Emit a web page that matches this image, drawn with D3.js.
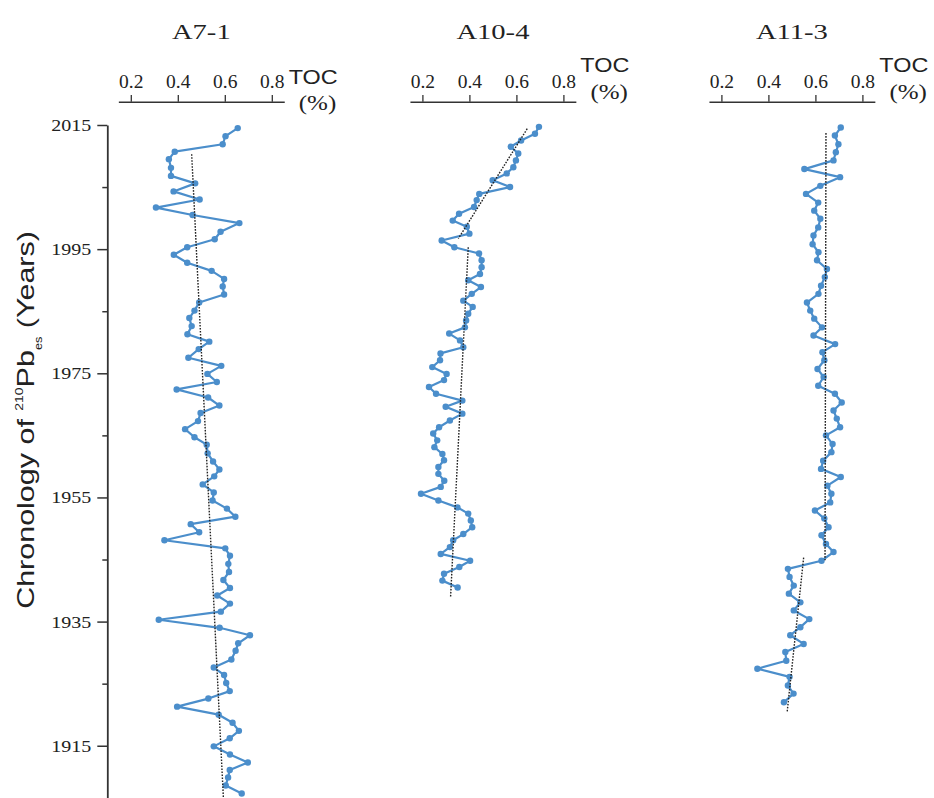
<!DOCTYPE html>
<head>
<meta charset="UTF-8">
<style>
    body { margin: 0; background: white; }
    .axis path, .axis line { stroke: #333; }
    .serif { font-family: "Liberation Serif", "Times New Roman", serif; fill: #222; }
    .sans { font-family: "Liberation Sans", Arial, sans-serif; fill: #222; }
    .toc { fill: none; stroke: #4b8ecb; stroke-width: 2.2; stroke-linejoin: round; }
    .dot { fill: #4b8ecb; }
    .trend { fill: none; stroke: #222; stroke-width: 1.4; stroke-dasharray: 1.6,1.4; }
</style>
</head>
<body>
<svg width="934" height="798"></svg>
<script src="https://cdn.jsdelivr.net/npm/d3@7"></script>
<script>
// cores
var cores = ["A7-1", "A10-4", "A11-3"];
var tocTicks = [0.2, 0.4, 0.6, 0.8];
var yearTicks = [2015, 1995, 1975, 1955, 1935, 1915];
var yearMinor = [2005, 1985, 1965, 1945, 1925];

// A7-1
var a7Year = [2014.5, 2013.2, 2011.9, 2010.7, 2009.5, 2008.1, 2006.8, 2005.6, 2004.3, 2003.0,
    2001.7, 2000.5, 1999.2, 1997.8, 1996.6, 1995.3, 1994.1, 1992.8, 1991.5, 1990.2,
    1989.0, 1987.7, 1986.4, 1985.1, 1983.9, 1982.6, 1981.3, 1980.1, 1978.9, 1977.5,
    1976.2, 1974.9, 1973.6, 1972.4, 1971.1, 1969.8, 1968.6, 1967.3, 1966.0, 1964.7,
    1963.5, 1962.1, 1960.8, 1959.5, 1958.4, 1957.1, 1955.8, 1954.5, 1953.2, 1951.9,
    1950.7, 1949.4, 1948.1, 1946.8, 1945.6, 1944.3, 1943.0, 1941.7, 1940.4, 1939.2,
    1937.9, 1936.6, 1935.3, 1934.0, 1932.8, 1931.5, 1930.3, 1928.9, 1927.6, 1926.4,
    1925.1, 1923.8, 1922.6, 1921.3, 1920.0, 1918.7, 1917.4, 1916.2, 1914.9, 1913.6,
    1912.3, 1911.1, 1909.9, 1908.6, 1907.3];
var a7Toc = [0.655, 0.603, 0.591, 0.387, 0.362, 0.371, 0.371, 0.474, 0.382, 0.493,
    0.307, 0.463, 0.662, 0.582, 0.557, 0.440, 0.383, 0.440, 0.544, 0.597,
    0.591, 0.597, 0.491, 0.471, 0.449, 0.459, 0.441, 0.534, 0.489, 0.445,
    0.585, 0.526, 0.566, 0.395, 0.529, 0.577, 0.497, 0.486, 0.431, 0.471,
    0.523, 0.527, 0.550, 0.577, 0.555, 0.506, 0.553, 0.548, 0.609, 0.645,
    0.455, 0.491, 0.343, 0.602, 0.622, 0.615, 0.618, 0.594, 0.622, 0.568,
    0.622, 0.583, 0.319, 0.578, 0.707, 0.657, 0.646, 0.628, 0.553, 0.597,
    0.606, 0.621, 0.530, 0.397, 0.574, 0.633, 0.660, 0.621, 0.553, 0.622,
    0.698, 0.621, 0.614, 0.604, 0.672];

// A10-4
var a10Year = [2014.7, 2013.6, 2012.5, 2011.5, 2010.4, 2009.3, 2008.2, 2007.2, 2006.1, 2005.0,
    2003.9, 2002.9, 2001.8, 2000.7, 1999.6, 1998.6, 1997.5, 1996.4, 1995.3, 1994.3,
    1993.2, 1992.1, 1991.0, 1990.0, 1988.9, 1987.8, 1986.7, 1985.7, 1984.6, 1983.5,
    1982.4, 1981.4, 1980.3, 1979.2, 1978.2, 1977.1, 1976.0, 1974.9, 1973.9, 1972.8,
    1971.7, 1970.6, 1969.6, 1968.5, 1967.4, 1966.3, 1965.3, 1964.2, 1963.1, 1962.0,
    1961.0, 1959.9, 1958.8, 1957.7, 1956.7, 1955.6, 1954.5, 1953.4, 1952.4, 1951.3,
    1950.2, 1949.1, 1948.1, 1947.0, 1945.9, 1944.8, 1943.8, 1942.7, 1941.6, 1940.5];
var a10Toc = [0.696, 0.679, 0.620, 0.576, 0.608, 0.598, 0.587, 0.559, 0.499, 0.573,
    0.442, 0.431, 0.420, 0.356, 0.329, 0.389, 0.400, 0.282, 0.336, 0.441,
    0.452, 0.452, 0.445, 0.395, 0.449, 0.410, 0.374, 0.414, 0.395, 0.386,
    0.381, 0.314, 0.360, 0.374, 0.277, 0.275, 0.242, 0.303, 0.292, 0.228,
    0.258, 0.370, 0.299, 0.370, 0.317, 0.271, 0.246, 0.263, 0.251, 0.285,
    0.292, 0.268, 0.268, 0.293, 0.278, 0.194, 0.268, 0.349, 0.395, 0.406,
    0.412, 0.374, 0.331, 0.317, 0.278, 0.403, 0.357, 0.292, 0.285, 0.350];

// A11-3
var a11Year = [2014.6, 2013.3, 2011.9, 2010.6, 2009.3, 2007.9, 2006.6, 2005.2, 2003.9, 2002.5,
    2001.2, 1999.9, 1998.5, 1997.2, 1995.8, 1994.5, 1993.2, 1991.8, 1990.5, 1989.1,
    1987.8, 1986.4, 1985.1, 1983.8, 1982.4, 1981.1, 1979.7, 1978.4, 1977.1, 1975.7,
    1974.4, 1973.0, 1971.7, 1970.3, 1969.0, 1967.7, 1966.3, 1965.0, 1963.6, 1962.3,
    1960.9, 1959.6, 1958.3, 1956.9, 1955.6, 1954.2, 1952.9, 1951.6, 1950.2, 1948.9,
    1947.5, 1946.2, 1944.8, 1943.5, 1942.2, 1940.8, 1939.5, 1938.1, 1936.8, 1935.4,
    1934.1, 1932.8, 1931.4, 1930.1, 1928.7, 1927.4, 1926.1, 1924.7, 1923.4, 1922.0];
var a11Toc = [0.708, 0.683, 0.698, 0.687, 0.677, 0.553, 0.705, 0.621, 0.560, 0.612,
    0.595, 0.621, 0.612, 0.592, 0.588, 0.613, 0.607, 0.649, 0.640, 0.624,
    0.613, 0.564, 0.578, 0.595, 0.628, 0.592, 0.684, 0.630, 0.638, 0.609,
    0.635, 0.612, 0.683, 0.712, 0.677, 0.691, 0.705, 0.645, 0.673, 0.668,
    0.633, 0.624, 0.708, 0.651, 0.668, 0.663, 0.598, 0.638, 0.656, 0.626,
    0.645, 0.677, 0.626, 0.483, 0.490, 0.508, 0.487, 0.536, 0.508, 0.574,
    0.536, 0.493, 0.550, 0.472, 0.476, 0.353, 0.490, 0.483, 0.507, 0.466];

// dotted trend segments: [year, toc] pairs
var a7Trend = [[[2010.3, 0.459], [1905, 0.596]]];
var a10Trend = [[[2014.4, 0.646], [1996.7, 0.353]], [[1995.3, 0.395], [1939.0, 0.320]]];
var a11Trend = [[[2013.7, 0.645], [1944.9, 0.641]], [[1945.3, 0.550], [1920.5, 0.480]]];

var years = [a7Year, a10Year, a11Year];
var tocs = [a7Toc, a10Toc, a11Toc];
var trends = [a7Trend, a10Trend, a11Trend];

// layout
var panelLeft = [130.8, 422.4, 721.4];   // x of the 0.2 tick
var panelSpan = 141;                    // 0.2 -> 0.8
var axisY = 101.7;
var tocBase = [84, 72, 72];
var pctBase = [110, 99, 99];
var serifFont = '"Liberation Serif", "Times New Roman", serif';

var svg = d3.select("svg");

var y = d3.scaleLinear().domain([1906.5, 2015]).range([798.5, 125]);

// left axis
var yAxis = svg.append("g")
    .attr("class", "axis")
    .attr("transform", "translate(107.3,0)")
    .call(d3.axisLeft(y).tickValues(yearTicks).tickSize(10).tickPadding(6).tickSizeOuter(0)
        .tickFormat(d3.format("d")));
yAxis.select(".domain").attr("stroke-width", 1.8);
yAxis.selectAll(".tick line").attr("stroke-width", 1.5);
yAxis.selectAll(".tick text")
    .attr("fill", "#222")
    .style("font-family", serifFont)
    .style("font-size", "17px")
    .attr("textLength", 40)
    .attr("lengthAdjust", "spacingAndGlyphs");

var yMinor = svg.append("g")
    .attr("class", "axis")
    .attr("transform", "translate(107.3,0)")
    .call(d3.axisLeft(y).tickValues(yearMinor).tickSize(5).tickSizeOuter(0).tickFormat(""));
yMinor.select(".domain").remove();
yMinor.selectAll(".tick line").attr("stroke-width", 1.5);

// y label
var ylab = svg.append("text")
    .attr("class", "sans")
    .attr("text-anchor", "middle")
    .attr("transform", "translate(34,420) rotate(-90) scale(1.27,1)")
    .style("font-size", "24px");
ylab.append("tspan").text("Chronology of ");
ylab.append("tspan").text("210").style("font-size", "11px").attr("dy", -11.3);
ylab.append("tspan").text("Pb").attr("dy", 11.3);
ylab.append("tspan").text("es").style("font-size", "10px").attr("dy", 7.7);
ylab.append("tspan").text(" (Years)").attr("dy", -7.7);

cores.forEach(function(name, i) {
    var x = d3.scaleLinear().domain([0.2, 0.8]).range([panelLeft[i], panelLeft[i] + panelSpan]);
    var xAxisScale = x.copy().domain([0.147, 0.853]).range([x(0.147), x(0.853)]);
    var axisEnd = xAxisScale.range()[1];

    svg.append("text")
        .attr("class", "serif")
        .attr("text-anchor", "middle")
        .attr("transform", "translate(" + d3.mean(xAxisScale.range()) + ",39.3) scale(1.3,1)")
        .style("font-size", "22px")
        .text(name);

    var gx = svg.append("g")
        .attr("class", "axis")
        .attr("transform", "translate(0," + axisY + ")")
        .call(d3.axisTop(xAxisScale).tickValues(tocTicks).tickSize(6.7).tickPadding(6.7)
            .tickSizeOuter(0).tickFormat(d3.format(".1f")));
    gx.select(".domain").attr("stroke-width", 1.5);
    gx.selectAll(".tick line").attr("stroke-width", 1.3);
    gx.selectAll(".tick text")
        .attr("fill", "#222")
        .style("font-family", serifFont)
        .style("font-size", "19.5px");

    svg.append("text")
        .attr("class", "sans")
        .attr("transform", "translate(" + (axisEnd + 4.5) + "," + tocBase[i] + ") scale(1.2,1)")
        .style("font-size", "19.5px")
        .text("TOC");
    svg.append("text")
        .attr("class", "serif")
        .attr("text-anchor", "end")
        .attr("transform", "translate(" + (axisEnd + 52) + "," + pctBase[i] + ") scale(1.25,1)")
        .style("font-size", "20px")
        .text("(%)");

    var data = years[i].map(function(yr, j) { return { year: yr, toc: tocs[i][j] }; });

    var line = d3.line()
        .x(function(d) { return x(d.toc); })
        .y(function(d) { return y(d.year); });

    svg.append("path")
        .datum(data)
        .attr("class", "toc")
        .attr("d", line);

    svg.append("g").selectAll("circle")
        .data(data)
        .enter().append("circle")
        .attr("class", "dot")
        .attr("cx", function(d) { return x(d.toc); })
        .attr("cy", function(d) { return y(d.year); })
        .attr("r", 3.2);

    var trendLine = d3.line()
        .x(function(d) { return x(d[1]); })
        .y(function(d) { return y(d[0]); });

    svg.append("g").selectAll("path")
        .data(trends[i])
        .enter().append("path")
        .attr("class", "trend")
        .attr("d", trendLine);
});
</script>
</body>
